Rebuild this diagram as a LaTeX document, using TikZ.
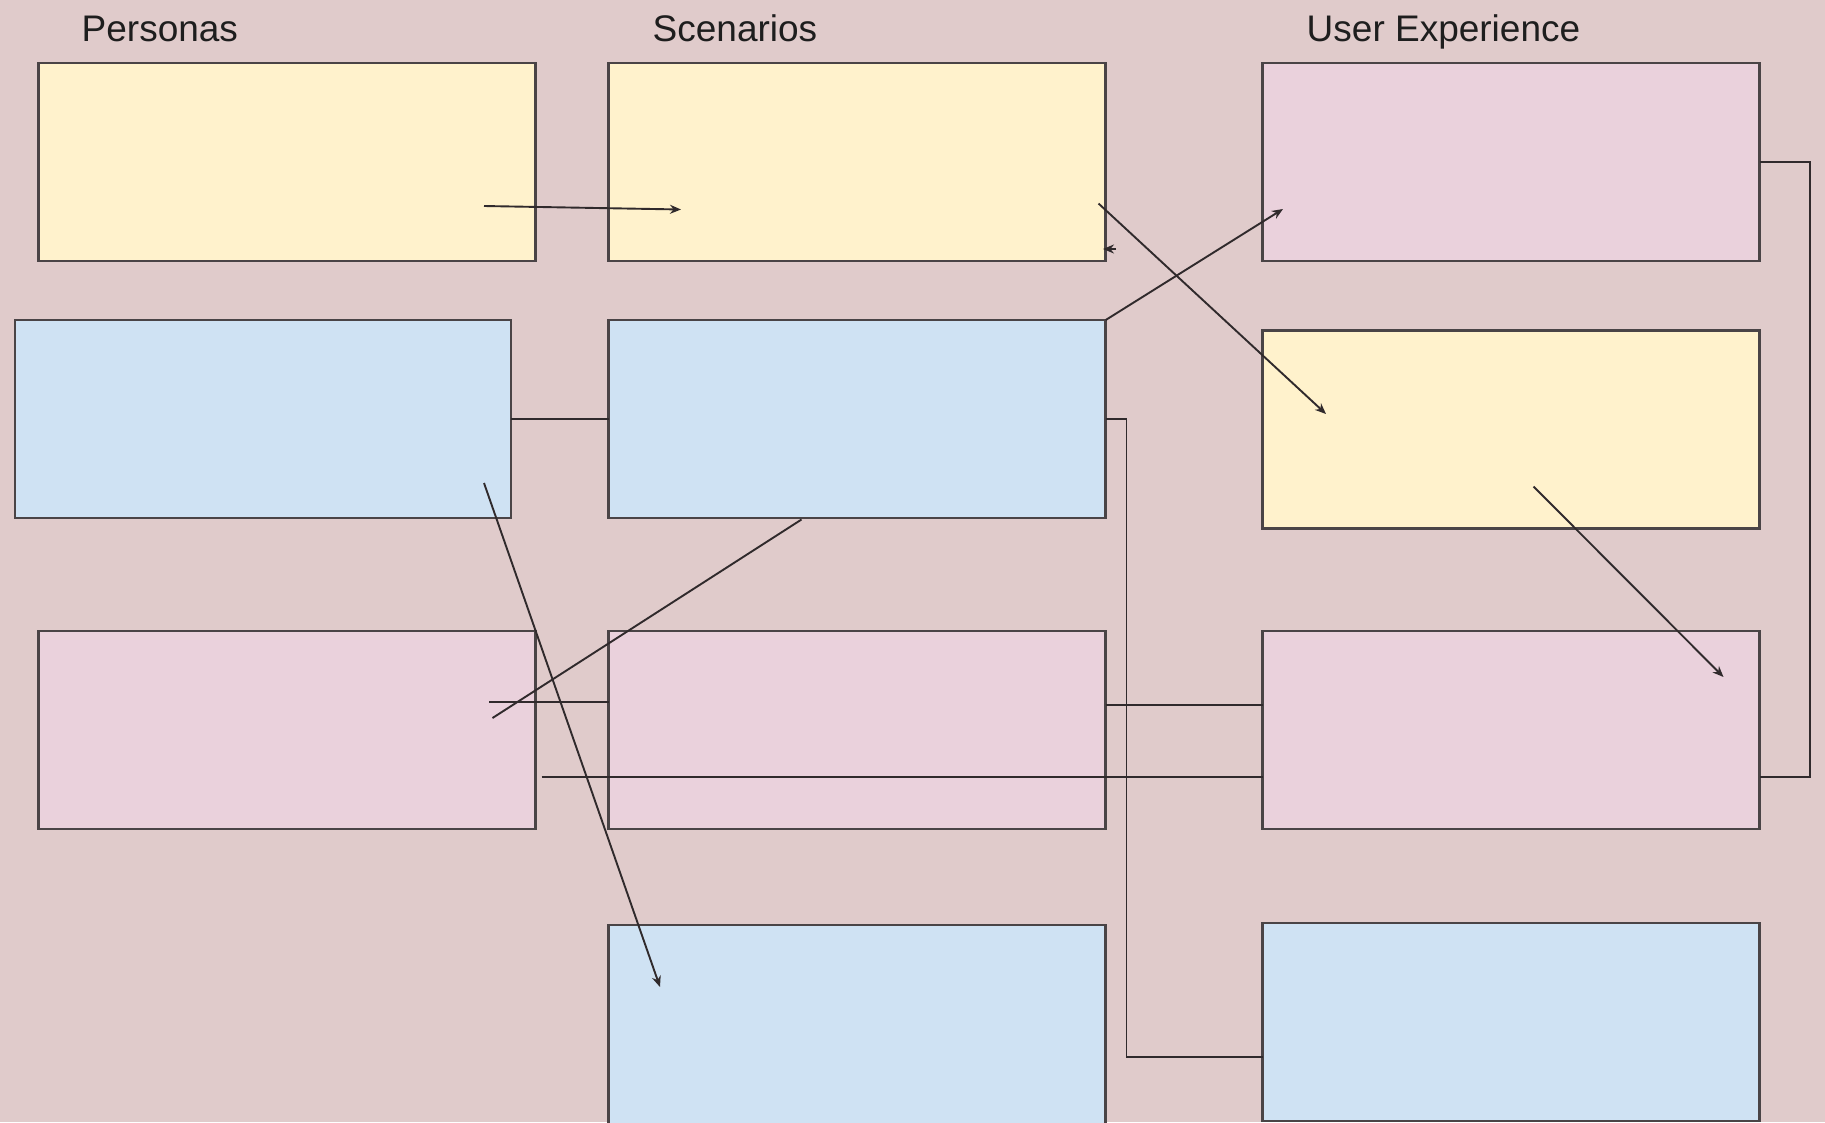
\documentclass[tikz,border=0pt]{standalone}
\usepackage{fontspec}
\setmainfont{Liberation Sans}
\usetikzlibrary{arrows.meta,calc}
\definecolor{bgc}{RGB}{224,203,203}
\definecolor{yel}{RGB}{255,242,204}
\definecolor{blu}{RGB}{207,226,243}
\definecolor{pnk}{RGB}{234,209,220}
\definecolor{brd}{RGB}{74,68,70}
\definecolor{lnc}{RGB}{48,42,44}
\definecolor{txt}{RGB}{30,30,30}
\tikzset{
  box/.style={draw=brd, line width=2.9pt, rectangle, inner sep=0pt, outer sep=0pt,
              minimum width=497pt, minimum height=198pt, anchor=north west},
  yelbox/.style={box, fill=yel},
  blubox/.style={box, fill=blu},
  pnkbox/.style={box, fill=pnk},
  conn/.style={draw=lnc, line width=1.9pt},
  arr/.style={conn, -{Stealth[length=11pt,width=9pt]}},
  head/.style={font=\fontsize{37}{44}\selectfont, text=txt, inner sep=0pt, anchor=base west}
}
\begin{document}
\begin{tikzpicture}[x=1pt,y=-1pt]
\fill[bgc] (0,0) rectangle (1825,1122);
\useasboundingbox (0,0) rectangle (1825,1122);
% headings
\node[head] (hP) at (81.5,41) {Personas};
\node[head] (hS) at (652.5,41) {Scenarios};
\node[head] (hU) at (1306.5,41) {User Experience};
% boxes
\node[yelbox] (P1) at (38.5,63) {};
\node[blubox, minimum width=496pt] (P2) at (15,320) {};
\node[pnkbox] (P3) at (38.5,631) {};
\node[yelbox] (S1) at (608.7,63) {};
\node[blubox] (S2) at (608.7,320) {};
\node[pnkbox] (S3) at (608.7,631) {};
\node[blubox, minimum height=230pt] (S4) at (608.7,925) {};
\node[pnkbox] (U1) at (1262.8,63) {};
\node[yelbox] (U2) at (1262.8,330.5) {};
\node[pnkbox] (U3) at (1262.8,631) {};
\node[blubox] (U4) at (1262.8,923) {};
% coordinates
\coordinate (a1s) at (484,206);
\coordinate (a1e) at (681,209.5);
\coordinate (a2s) at (1098.5,203.5);
\coordinate (a2e) at (1326,414);
\coordinate (a3s) at (1116,249);
\coordinate (a3e) at (1103,249);
\coordinate (a4e) at (1283,209);
\coordinate (c6) at (1126.5,1057);
\coordinate (a7s) at (801.5,519.5);
\coordinate (a7e) at (492.5,718);
\coordinate (l8s) at (489,702.3);
\coordinate (a9s) at (484,483);
\coordinate (a9e) at (660,987);
\coordinate (l10) at (1180,705);
\coordinate (l11s) at (541.5,777.3);
\coordinate (c12) at (1810,776.7);
\coordinate (a13s) at (1533.5,486.5);
\coordinate (a13e) at (1723.5,677);
% connectors
\draw[arr] (a1s) -- (a1e);
\draw[arr] (a2s) -- (a2e);
\draw[arr] (a3s) -- (a3e);
\draw[arr] (S2.north east) -- (a4e);
\draw[conn] (P2.east) -- (S2.west);
\draw[conn] (S2.east) -| (c6) -- (c6 -| U4.west);
\draw[conn] (a7s) -- (a7e);
\draw[conn] (l8s) -- (l8s -| S3.west);
\draw[arr] (a9s) -- (a9e);
\draw[conn] (l10 -| S3.east) -- (l10 -| U3.west);
\draw[conn] (l11s) -- (l11s -| U3.west);
\draw[conn] (U1.east) -| (c12) -- (c12 -| U3.east);
\draw[arr] (a13s) -- (a13e);
\end{tikzpicture}
\end{document}
